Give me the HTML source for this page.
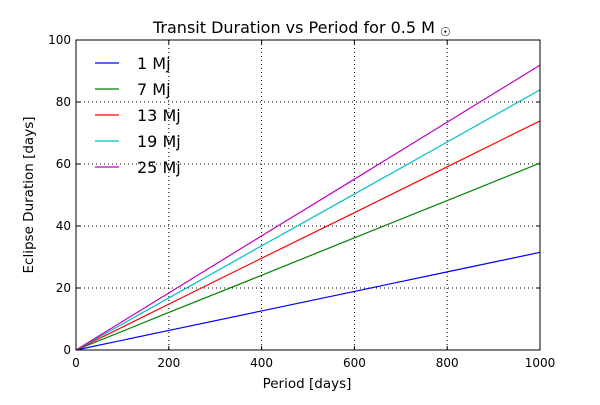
<!DOCTYPE html>
<html><head><meta charset="utf-8"><style>
body{margin:0;background:#fff;}
svg text{font-family:"DejaVu Sans","Liberation Sans",sans-serif;}
</style></head><body>
<svg id="chart" width="600" height="400" xmlns="http://www.w3.org/2000/svg"></svg>
<script>
const periods=[0,200,400,600,800,1000];
const labels=["1 Mj","7 Mj","13 Mj","19 Mj","25 Mj"];
const colors=["#0000ff","#008000","#ff0000","#00bfbf","#bf00bf"];
const s1=[0,6.3,12.6,18.9,25.2,31.5];
const s7=[0,12.1,24.1,36.2,48.2,60.3];
const s13=[0,14.8,29.6,44.3,59.1,73.9];
const s19=[0,16.8,33.6,50.3,67.1,83.9];
const s25=[0,18.4,36.8,55.1,73.5,91.9];
const series=[s1,s7,s13,s19,s25];
const xTicks=[0,200,400,600,800,1000];
const yTicks=[0,20,40,60,80,100];
const L=76,R=540,T=40,B=350;
const xs=v=>L+(v/1000)*(R-L), ys=v=>B-(v/100)*(B-T);
const svg=document.getElementById('chart');
function mk(t,a){const e=document.createElementNS('http://www.w3.org/2000/svg',t);for(const k in a)e.setAttribute(k,a[k]);svg.appendChild(e);return e;}
xTicks.forEach(v=>{const x=xs(v);
 if(v>0&&v<1000){const g=mk('line',{x1:x,x2:x,y1:T,y2:B,stroke:'#000','stroke-dasharray':'1,3','stroke-width':1});}
 const t=mk('line',{x1:x,x2:x,y1:B,y2:B-4,stroke:'#000'});
 const t2=mk('line',{x1:x,x2:x,y1:T,y2:T+4,stroke:'#000'});
 const l=mk('text',{x:x,y:B+17,'text-anchor':'middle','font-size':12});l.textContent=v;});
yTicks.forEach(v=>{const y=ys(v);
 if(v>0&&v<100){const g=mk('line',{x1:L,x2:R,y1:y,y2:y,stroke:'#000','stroke-dasharray':'1,3','stroke-width':1});}
 const t=mk('line',{x1:L,x2:L+4,y1:y,y2:y,stroke:'#000'});
 const t2=mk('line',{x1:R,x2:R-4,y1:y,y2:y,stroke:'#000'});
 const l=mk('text',{x:L-5,y:y+4,'text-anchor':'end','font-size':12});l.textContent=v;});
series.forEach((s,i)=>{const p=mk('polyline',{points:s.map((v,j)=>xs(periods[j])+','+ys(v)).join(' '),fill:'none',stroke:colors[i],'stroke-width':1.2});
 
 const ly=63+i*26;
 const ll=mk('line',{x1:95,x2:119,y1:ly,y2:ly,stroke:colors[i],'stroke-width':1.2});
 const lt=mk('text',{x:137,y:ly+6,'font-size':16});lt.textContent=labels[i];});
const f=mk('rect',{x:L,y:T,width:R-L,height:B-T,fill:'none',stroke:'#000','stroke-width':1});
const ti=mk('text',{x:153,y:33,'font-size':16});ti.innerHTML='Transit Duration vs Period for 0.5 M <tspan font-size="12" dy="3">☉</tspan>';
const xt=mk('text',{x:307,y:388,'text-anchor':'middle','font-size':13.5});xt.textContent='Period [days]';
const yt=mk('text',{x:33,y:195,'text-anchor':'middle','font-size':13.5,transform:'rotate(-90 33 195)'});yt.textContent='Eclipse Duration [days]';
</script>
</body></html>
